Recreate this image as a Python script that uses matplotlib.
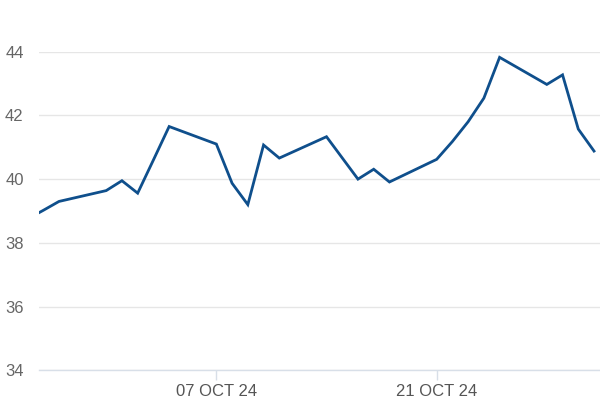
import matplotlib
matplotlib.use("Agg")
import matplotlib.pyplot as plt
import matplotlib.dates as mdates
import pandas as pd

plt.rcParams['font.family'] = ['Liberation Sans', 'DejaVu Sans']

# daily closes (trading days)
dates = pd.to_datetime([
    '2024-09-25', '2024-09-26', '2024-09-27', '2024-09-30', '2024-10-01',
    '2024-10-02', '2024-10-03', '2024-10-04', '2024-10-07', '2024-10-08',
    '2024-10-09', '2024-10-10', '2024-10-11', '2024-10-14', '2024-10-16',
    '2024-10-17', '2024-10-18', '2024-10-21', '2024-10-22', '2024-10-23',
    '2024-10-24', '2024-10-25', '2024-10-28', '2024-10-29', '2024-10-30',
    '2024-10-31'])
prices = [38.75, 39.02, 39.30, 39.64, 39.95,
          39.56, 40.60, 41.65, 41.10, 39.87,
          39.20, 41.07, 40.66, 41.33, 40.00,
          40.31, 39.91, 40.62, 41.18, 41.80,
          42.54, 43.82, 42.97, 43.27, 41.57,
          40.88]

y_ticks = [34, 36, 38, 40, 42, 44]
x_ticks = pd.to_datetime(['2024-10-07', '2024-10-21'])

fig = plt.figure(figsize=(6, 4), dpi=100)
ax = fig.add_axes([0.065, 0.074, 0.935, 0.797])

ax.plot(dates, prices, color='#0f4f8c', lw=2, solid_joinstyle='miter', clip_on=True)

ax.set_ylim(34, 44)
ax.set_xlim(mdates.date2num(pd.Timestamp('2024-09-25')) + 0.73,
            mdates.date2num(pd.Timestamp('2024-10-31')) + 0.38)

ax.set_yticks(y_ticks)
ax.set_xticks(x_ticks)
labels = [d.strftime('%d %b %y').upper() for d in x_ticks]
ax.set_xticklabels(labels)

ax.grid(axis='y', color='#e6e6e6', lw=1)
ax.set_axisbelow(True)
for s in ['top', 'right', 'left']:
    ax.spines[s].set_visible(False)
ax.spines['bottom'].set_color('#d8dfe8')
ax.spines['bottom'].set_linewidth(1)

ax.tick_params(axis='y', length=0, pad=11, labelsize=12, labelcolor='#666666')
ax.tick_params(axis='x', length=7, width=1, color='#d8dfe8', pad=3,
               labelsize=12, labelcolor='#555555')

fig.savefig('out.png', dpi=100)
